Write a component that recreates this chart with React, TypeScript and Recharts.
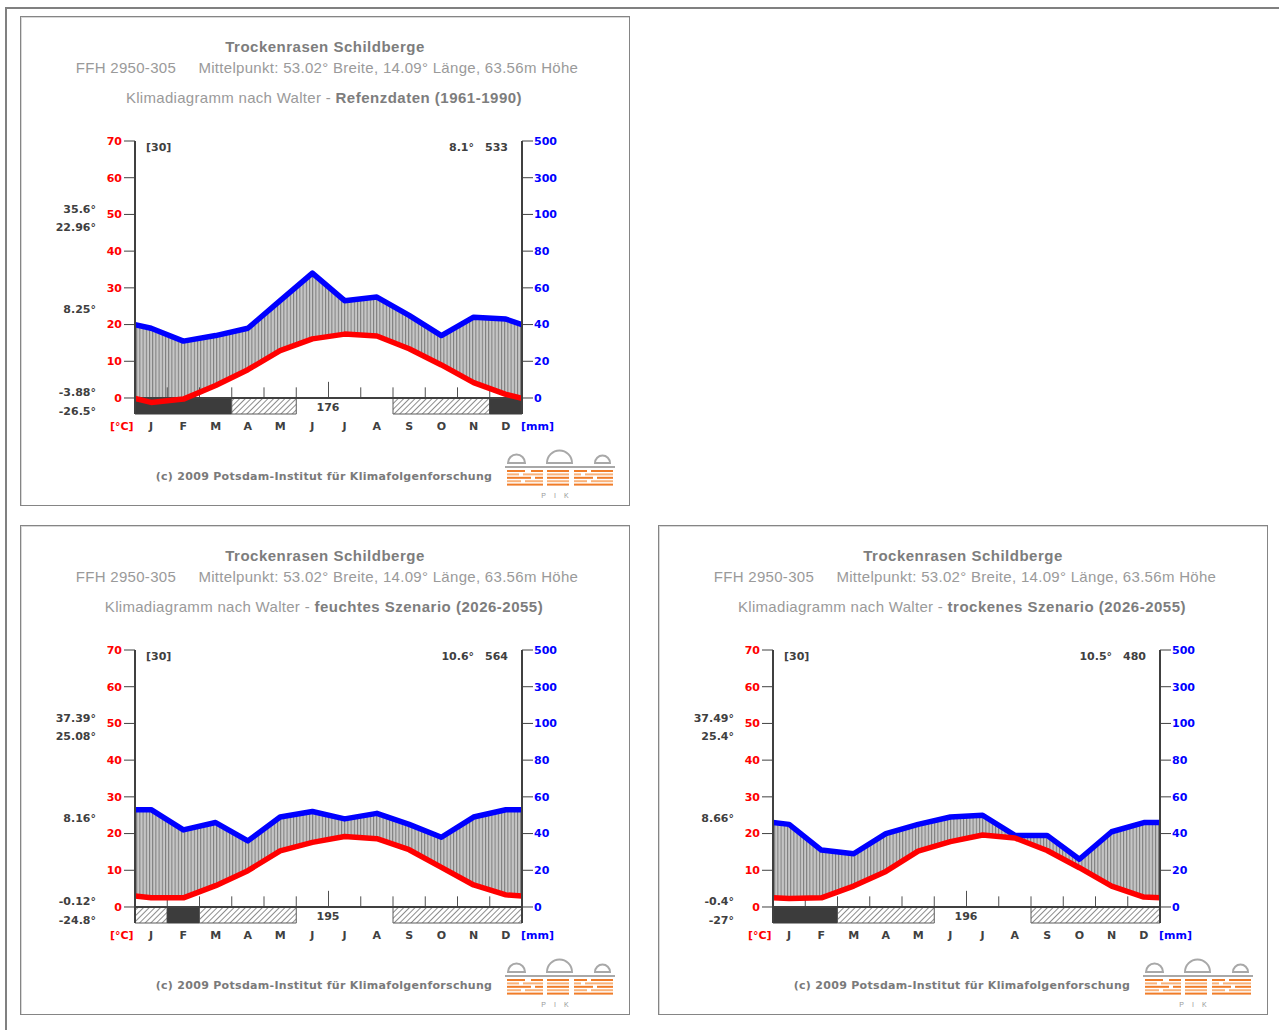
import React from "react"
import { ComposedChart, Line, Area, XAxis, YAxis, ReferenceArea, ReferenceLine } from "recharts"

const months = ["J", "F", "M", "A", "M", "J", "J", "A", "S", "O", "N", "D"]
const tempTicks = [0, 10, 20, 30, 40, 50, 60, 70]
const precTickLabels = [0, 20, 40, 60, 80, 100, 300, 500]

// Referenzdaten 1961-1990
const refTemp = [-1.2, -0.3, 3.4, 7.7, 12.9, 16.1, 17.4, 16.9, 13.4, 9.0, 4.2, 1.0]
const refTempEdge = -0.1
const refPrec = [38, 31, 34, 38, 53, 68, 53, 55, 45, 34, 44, 43]
const refPrecEdge = 40
const refFrost = [2, 2, 2, 1, 1, 0, 0, 0, 1, 1, 1, 2]
const refStats = ["35.6°", "22.96°", "8.25°", "-3.88°", "-26.5°"]

// feuchtes Szenario 2026-2055
const wetTemp = [2.5, 2.5, 5.8, 9.9, 15.3, 17.6, 19.2, 18.6, 15.6, 10.8, 6.0, 3.3]
const wetTempEdge = 3.0
const wetPrec = [53, 42, 46, 36, 49, 52, 48, 51, 45, 38, 49, 53]
const wetPrecEdge = 53
const wetFrost = [1, 2, 1, 1, 1, 0, 0, 0, 1, 1, 1, 1]
const wetStats = ["37.39°", "25.08°", "8.16°", "-0.12°", "-24.8°"]

// trockenes Szenario 2026-2055
const dryTemp = [2.3, 2.5, 5.7, 9.7, 15.2, 17.8, 19.6, 18.8, 15.4, 10.7, 5.7, 2.7]
const dryTempEdge = 2.5
const dryPrec = [45, 31, 29, 40, 45, 49, 50, 39, 39, 26, 41, 46]
const dryPrecEdge = 46
const dryFrost = [2, 2, 1, 1, 1, 0, 0, 0, 1, 1, 1, 1]
const dryStats = ["37.49°", "25.4°", "8.66°", "-0.4°", "-27°"]

const FONT = "'Liberation Sans', Arial, sans-serif"
const SMALL_FONT = "'DejaVu Sans', Verdana, sans-serif"
const BAR = 4.36 // frost bar depth below 0, in °C units
const statTops = [193, 211, 293, 376, 395]

// walter scale: 10°C = 20mm, above 100mm compressed 1:10
const precToScale = (mm: number) => (mm <= 100 ? mm / 2 : 50 + (mm - 100) / 20)

function frostRuns(frost: number[]) {
  const runs: { start: number; end: number; kind: number }[] = []
  frost.forEach((k, i) => {
    const last = runs[runs.length - 1]
    if (last && last.kind === k && last.end === i) last.end = i + 1
    else runs.push({ start: i, end: i + 1, kind: k })
  })
  return runs.filter(r => r.kind > 0)
}

type PanelProps = {
  id: string
  left: number
  top: number
  subtitle: string
  temp: number[]
  tempEdge: number
  prec: number[]
  precEdge: number
  frost: number[]
  stats: string[]
  mean: string
  sum: string
  frostFree: string
}

const small: React.CSSProperties = { position: "absolute", fontFamily: SMALL_FONT, fontSize: 11, fontWeight: "bold", lineHeight: "16px", whiteSpace: "nowrap" }
const tickFont = { fontSize: 11, fontWeight: "bold", fontFamily: SMALL_FONT }

function Logo() {
  const orange = [
    [[486, 504], [510, 522], [526, 548], [553, 566], [570, 592]],
    [[486, 498], [502, 522], [526, 548], [553, 560], [564, 592]],
    [[486, 510], [514, 522], [526, 548], [553, 572], [576, 592]],
    [[486, 500], [504, 522], [526, 548], [553, 566], [570, 592]],
    [[486, 522], [526, 548], [553, 592]],
  ]
  return (
    <svg style={{ position: "absolute", left: 0, top: 0 }} width={608} height={488}>
      <g fill="none" stroke="#a8a8a8" strokeWidth={2}>
        <path d="M 487 446 A 8.5 8.5 0 0 1 504 446 Z" />
        <path d="M 526 446 A 12.5 12.5 0 0 1 551 446 Z" />
        <path d="M 574 446 A 7.5 7.5 0 0 1 589 446 Z" />
        <line x1={484} y1={450} x2={594} y2={450} />
      </g>
      {orange.map((row, r) =>
        row.map(([a, b], j) => (
          <rect key={`${r}-${j}`} x={a} y={453 + r * 3.4} width={b - a} height={2} fill={r % 2 ? "#f9b27a" : "#f07c28"} />
        ))
      )}
      <text x={538} y={481} textAnchor="middle" fontSize={7} fill="#999" fontFamily={FONT} letterSpacing={8}>PIK</text>
    </svg>
  )
}

function Panel(p: PanelProps) {
  const rows = [
    { x: 0, t: p.tempEdge, p: precToScale(p.precEdge) },
    ...months.map((_, i) => ({ x: i + 0.5, t: p.temp[i], p: precToScale(p.prec[i]) })),
    { x: 12, t: p.tempEdge, p: precToScale(p.precEdge) },
  ]
  const runs = frostRuns(p.frost)
  const monthCenters = months.map((_, i) => i + 0.5)
  const boundaries = months.slice(1).map((_, i) => i + 1)
  return (
    <div style={{ position: "absolute", left: p.left, top: p.top, width: 610, height: 490, boxSizing: "border-box", border: "1px solid #858585", boxShadow: "inset 1px 1px 0 #d8d8d8", background: "#fff" }}>
      <div style={{ position: "absolute", left: 0, width: 608, top: 21, textAlign: "center", fontFamily: FONT, fontSize: 15, fontWeight: "bold", letterSpacing: 0.5, color: "#7d7d7d", lineHeight: "18px" }}>
        Trockenrasen Schildberge
      </div>
      <div style={{ position: "absolute", left: 0, width: 612, top: 42, textAlign: "center", fontFamily: FONT, fontSize: 15, letterSpacing: 0.3, color: "#9a9a9a", lineHeight: "18px", whiteSpace: "pre" }}>
        {"FFH 2950-305     Mittelpunkt: 53.02° Breite, 14.09° Länge, 63.56m Höhe"}
      </div>
      <div style={{ position: "absolute", left: 0, width: 606, top: 72, textAlign: "center", fontFamily: FONT, fontSize: 15, letterSpacing: 0.3, color: "#9a9a9a", lineHeight: "18px", whiteSpace: "pre" }}>
        {"Klimadiagramm nach Walter - "}
        <span style={{ fontWeight: "bold", color: "#7d7d7d", letterSpacing: 0.5 }}>{p.subtitle}</span>
      </div>

      <ComposedChart width={608} height={488} data={rows} margin={{ top: 124, right: 47, bottom: 61, left: 54 }} style={{ position: "absolute", left: 0, top: 0 }}>
        <defs>
          <pattern id={`vh-${p.id}`} patternUnits="userSpaceOnUse" width={3.2} height={10}>
            <rect width={3.2} height={10} fill="#c6c6c6" />
            <line x1={0.5} y1={0} x2={0.5} y2={10} stroke="#7a7a7a" strokeWidth={1} />
          </pattern>
          <pattern id={`dh-${p.id}`} patternUnits="userSpaceOnUse" width={4} height={4} patternTransform="rotate(45)">
            <rect width={4} height={4} fill="#fff" />
            <line x1={0} y1={0} x2={0} y2={4} stroke="#707070" strokeWidth={1.6} />
          </pattern>
        </defs>
        <XAxis dataKey="x" type="number" domain={[0, 12]} ticks={monthCenters} interval={0} allowDataOverflow
          tickFormatter={(v: number) => months[Math.floor(v)]} axisLine={false} tickLine={false} tickSize={6} tickMargin={2} height={30}
          tick={{ fill: "#404040", ...tickFont }} />
        <YAxis yAxisId="t" type="number" domain={[-BAR, 70]} ticks={tempTicks} interval={0} allowDataOverflow width={60}
          axisLine={{ stroke: "#404040", strokeWidth: 2 }} tickLine={{ stroke: "#404040" }} tickSize={11} tickMargin={2}
          tick={{ fill: "#ff0000", ...tickFont }} />
        <YAxis yAxisId="p" orientation="right" type="number" domain={[-BAR, 70]} ticks={tempTicks} interval={0} allowDataOverflow width={60}
          tickFormatter={(v: number) => String(precTickLabels[tempTicks.indexOf(v)])}
          axisLine={{ stroke: "#404040", strokeWidth: 2 }} tickLine={{ stroke: "#404040" }} tickSize={11} tickMargin={1}
          tick={{ fill: "#0000ff", ...tickFont, textAnchor: "start" }} />
        <Area yAxisId="t" type="linear" dataKey={(d: { t: number; p: number }) => [d.t, d.p]} fill={`url(#vh-${p.id})`} fillOpacity={1} stroke="none" isAnimationActive={false} />
        {boundaries.map(b => (
          <ReferenceLine key={b} yAxisId="t" segment={[{ x: b, y: 0 }, { x: b, y: b === 6 ? 4.4 : 2.9 }]} stroke="#505050" strokeWidth={1} />
        ))}
        {runs.map(r => (
          <ReferenceArea key={r.start} yAxisId="t" x1={r.start} x2={r.end} y1={-BAR} y2={0}
            fill={r.kind === 2 ? "#3c3c3c" : `url(#dh-${p.id})`} fillOpacity={1}
            stroke={r.kind === 2 ? "#3c3c3c" : "#5a5a5a"} strokeWidth={1} />
        ))}
        <ReferenceLine yAxisId="t" y={0} stroke="#404040" strokeWidth={2} />
        <Line yAxisId="t" type="linear" dataKey="p" stroke="#0000ff" strokeWidth={5.5} dot={false} strokeLinejoin="round" isAnimationActive={false} />
        <Line yAxisId="t" type="linear" dataKey="t" stroke="#ff0000" strokeWidth={5.5} dot={false} strokeLinejoin="round" isAnimationActive={false} />
      </ComposedChart>

      {p.stats.map((s, i) => (
        <div key={i} style={{ ...small, left: 0, width: 75, textAlign: "right", top: statTops[i] - 8, color: "#404040" }}>{s}</div>
      ))}
      <div style={{ ...small, left: 125, top: 123, color: "#404040" }}>[30]</div>
      <div style={{ ...small, left: 0, width: 487, textAlign: "right", top: 123, color: "#404040" }}>
        {p.mean}<span style={{ marginLeft: 11 }}>{p.sum}</span>
      </div>
      <div style={{ ...small, left: 257, width: 100, textAlign: "center", top: 383, color: "#404040" }}>{p.frostFree}</div>
      <div style={{ ...small, left: 89, top: 402, color: "#ff0000" }}>[°C]</div>
      <div style={{ ...small, left: 500, top: 402, color: "#0000ff" }}>[mm]</div>
      <div style={{ ...small, left: 0, width: 606, textAlign: "center", top: 452, color: "#7a7a7a", letterSpacing: 0.3 }}>
        (c) 2009 Potsdam-Institut für Klimafolgenforschung
      </div>
      <Logo />
    </div>
  )
}

export default function App() {
  return (
    <div style={{ position: "absolute", left: 0, top: 0, width: 1279, height: 1030, background: "#fff", overflow: "hidden" }}>
      <div style={{ position: "absolute", left: 5, top: 7, width: 1290, height: 1040, borderTop: "2px solid #808080", borderLeft: "2px solid #808080" }} />
      <Panel id="ref" left={20} top={16} subtitle="Refenzdaten (1961-1990)" temp={refTemp} tempEdge={refTempEdge} prec={refPrec} precEdge={refPrecEdge}
        frost={refFrost} stats={refStats} mean="8.1°" sum="533" frostFree="176" />
      <Panel id="wet" left={20} top={525} subtitle="feuchtes Szenario (2026-2055)" temp={wetTemp} tempEdge={wetTempEdge} prec={wetPrec} precEdge={wetPrecEdge}
        frost={wetFrost} stats={wetStats} mean="10.6°" sum="564" frostFree="195" />
      <Panel id="dry" left={658} top={525} subtitle="trockenes Szenario (2026-2055)" temp={dryTemp} tempEdge={dryTempEdge} prec={dryPrec} precEdge={dryPrecEdge}
        frost={dryFrost} stats={dryStats} mean="10.5°" sum="480" frostFree="196" />
    </div>
  )
}
